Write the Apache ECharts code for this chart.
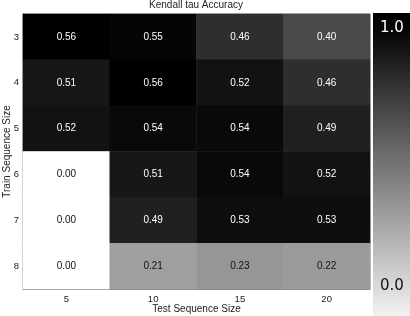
<!DOCTYPE html>
<html><head><meta charset="utf-8">
<script src="https://cdn.jsdelivr.net/npm/echarts@6/dist/echarts.min.js"></script>
<style>html,body{margin:0;padding:0;background:#fff}#c{width:410px;height:316px}</style>
</head><body><div id="c"></div>
<script>
var testSizes = ['5', '10', '15', '20'];
var trainSizes = ['3', '4', '5', '6', '7', '8'];
var row3 = [0.56, 0.55, 0.46, 0.40];
var row4 = [0.51, 0.56, 0.52, 0.46];
var row5 = [0.52, 0.54, 0.54, 0.49];
var row6 = [0.00, 0.51, 0.54, 0.52];
var row7 = [0.00, 0.49, 0.53, 0.53];
var row8 = [0.00, 0.21, 0.23, 0.22];
var rows = [row3, row4, row5, row6, row7, row8];
var colorbarLabels = ['1.0', '0.0'];

var data = [];
rows.forEach(function (r, yi) {
  r.forEach(function (v, xi) {
    data.push({ value: [xi, yi, v], label: { color: v < 0.3 ? '#111' : '#fff' } });
  });
});

var font = 'Liberation Sans';
var chart = echarts.init(document.getElementById('c'));
chart.setOption({
  animation: false,
  title: {
    text: 'Kendall tau Accuracy', left: 196, top: 0, padding: 0, textAlign: 'center',
    textStyle: { fontSize: 10, fontWeight: 'normal', color: '#222', fontFamily: font }
  },
  grid: { left: 23, right: 40, top: 14, bottom: 27, show: true, borderColor: '#888', borderWidth: 1,
          containLabel: false, outerBoundsMode: 'none' },
  xAxis: {
    type: 'category', data: testSizes, name: 'Test Sequence Size', nameLocation: 'middle', nameGap: 15,
    nameMoveOverlap: false,
    nameTextStyle: { fontSize: 10, color: '#222', fontFamily: font },
    axisLine: { show: true, lineStyle: { color: '#888' } }, axisTick: { show: false },
    axisLabel: { fontSize: 9.5, color: '#222', fontFamily: font, margin: 5 }, splitLine: { show: false }
  },
  yAxis: {
    type: 'category', data: trainSizes, inverse: true, name: 'Train Sequence Size', nameLocation: 'middle', nameGap: 11,
    nameMoveOverlap: false,
    nameTextStyle: { fontSize: 10, color: '#222', fontFamily: font },
    axisLine: { show: true, lineStyle: { color: '#333' } }, axisTick: { show: false },
    axisLabel: { fontSize: 9.5, color: '#222', fontFamily: font, margin: 4 }, splitLine: { show: false }
  },
  visualMap: {
    type: 'continuous', min: 0, max: 0.56, show: false,
    inRange: { color: ['#ffffff', '#000000'] }
  },
  graphic: [
    { type: 'rect', x: 373, y: 13, shape: { x: 0, y: 0, width: 37, height: 303 },
      style: { fill: new echarts.graphic.LinearGradient(0, 0, 0, 1, [
        { offset: 0, color: '#000' }, { offset: 0.06, color: '#050505' }, { offset: 1, color: '#f2f2f2' }
      ]) } },
    { type: 'text', x: 380, y: 21, style: { text: colorbarLabels[0], fill: '#fff', fontSize: 15, fontFamily: 'DejaVu Sans' } },
    { type: 'text', x: 380, y: 279, style: { text: colorbarLabels[1], fill: '#111', fontSize: 15, fontFamily: 'DejaVu Sans' } }
  ],
  series: [{
    type: 'heatmap', data: data,
    label: {
      show: true, fontSize: 10, fontFamily: font,
      formatter: function (p) { return p.value[2].toFixed(2); }
    },
    itemStyle: { borderWidth: 0 }
  }]
});
</script></body></html>
